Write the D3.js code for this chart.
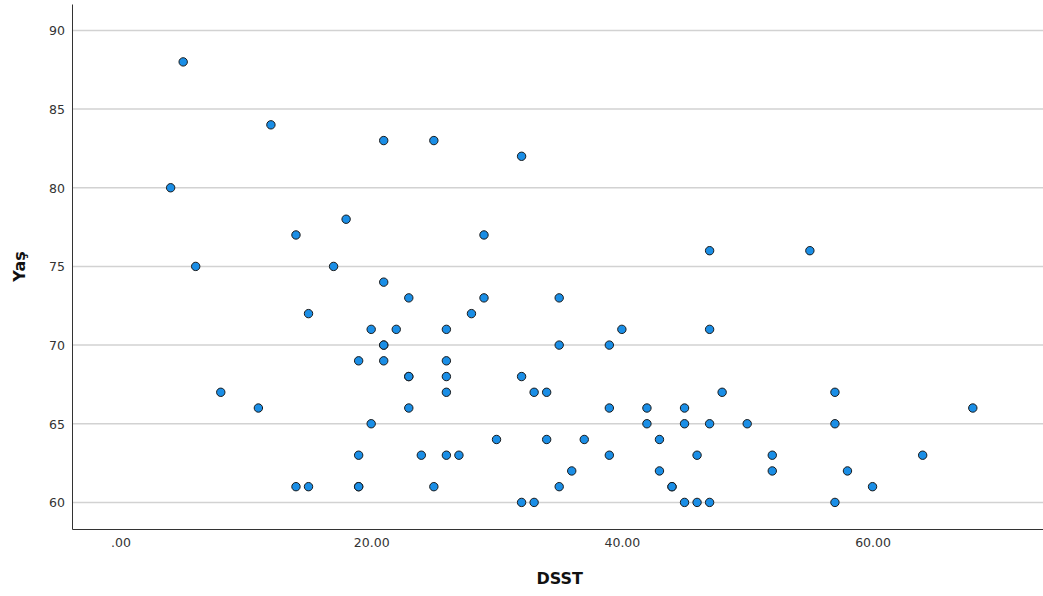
<!DOCTYPE html>
<html>
<head>
<meta charset="utf-8">
<script src="https://cdn.jsdelivr.net/npm/d3@7"></script>
<style>
  body { margin: 0; background: #fff; }
  .tick text { font-family: "DejaVu Sans", sans-serif; font-size: 12.5px; fill: #333; }
  .axis-title { font-family: "DejaVu Sans", sans-serif; font-size: 16px; font-weight: bold; fill: #111; }
</style>
</head>
<body>
<div id="chart"></div>
<script>
// DSST score (x) and age / Yaş (y), one entry per case
var dsst = [5, 4, 6, 12, 14, 18, 17, 21, 25, 32, 29, 21, 23, 29, 15, 28, 20, 22, 26, 21,
            21, 19, 21, 26, 23, 23, 26, 32, 8, 26, 11, 23, 20, 30, 19, 24, 26, 27, 14, 15,
            19, 19, 25, 32, 35, 40, 47, 35, 39, 33, 34, 48, 57, 39, 42, 45, 68, 42, 45, 47,
            50, 57, 34, 37, 43, 39, 46, 52, 64, 36, 43, 52, 58, 35, 44, 44, 60, 33, 45, 46,
            47, 57, 47, 55];
var yas  = [88, 80, 75, 84, 77, 78, 75, 83, 83, 82, 77, 74, 73, 73, 72, 72, 71, 71, 71, 70,
            70, 69, 69, 69, 68, 68, 68, 68, 67, 67, 66, 66, 65, 64, 63, 63, 63, 63, 61, 61,
            61, 61, 61, 60, 73, 71, 71, 70, 70, 67, 67, 67, 67, 66, 66, 66, 66, 65, 65, 65,
            65, 65, 64, 64, 64, 63, 63, 63, 63, 62, 62, 62, 62, 61, 61, 61, 61, 60, 60, 60,
            60, 60, 76, 76];
var xTicks = [0, 20, 40, 60];
var yTicks = [60, 65, 70, 75, 80, 85, 90];

var W = 1043, H = 596;
var margin = {top: 4, right: 0, bottom: 67, left: 72},
    width = W - margin.left - margin.right,
    height = H - margin.top - margin.bottom;

var svg = d3.select("#chart")
  .append("svg")
  .attr("width", W)
  .attr("height", H)
  .append("g")
  .attr("transform", "translate(" + margin.left + "," + margin.top + ")");

var x = d3.scaleLinear()
  .domain([-3.87, 73.6])
  .range([0, width]);
var y = d3.scaleLinear()
  .domain([58.31, 91.68])
  .range([height, 0]);

// horizontal grid lines
svg.selectAll(".grid").data(yTicks)
  .enter().append("line")
  .attr("class", "grid")
  .attr("x1", 0)
  .attr("x2", width)
  .attr("y1", function(d) {return y(d);})
  .attr("y2", function(d) {return y(d);})
  .style("stroke", "#d2d2d2")
  .style("stroke-width", 1.5);

var xAxis = d3.axisBottom(x)
  .tickValues(xTicks)
  .tickSize(0)
  .tickPadding(9)
  .tickFormat(function(d) {return d === 0 ? ".00" : d3.format(".2f")(d);});
var yAxis = d3.axisLeft(y)
  .tickValues(yTicks)
  .tickSize(0)
  .tickPadding(7);

svg.append("g")
  .attr("class", "axis axis-x")
  .attr("transform", "translate(0," + height + ")")
  .call(xAxis)
  .select(".domain").style("stroke", "#333");

svg.append("g")
  .attr("class", "axis axis-y")
  .call(yAxis)
  .select(".domain").style("stroke", "#333");

svg.selectAll(".axis-y .tick text").attr("dy", "0.36em");

svg.selectAll(".dot").data(dsst)
  .enter().append("circle")
  .attr("class", "dot")
  .attr("cx", function(d) {return x(d);})
  .attr("cy", function(d, i) {return y(yas[i]);})
  .attr("r", 4.2)
  .style("fill", "#1a8ee6")
  .style("stroke", "#1a1a1a")
  .style("stroke-width", 1);

svg.append("text")
  .attr("class", "axis-title")
  .attr("x", x(35) + 0.5)
  .attr("y", height + 55)
  .attr("text-anchor", "middle")
  .text("DSST");

svg.append("text")
  .attr("class", "axis-title")
  .attr("transform", "translate(" + (-47) + "," + y(75) + ") rotate(-90)")
  .attr("text-anchor", "middle")
  .text("Yaş");
</script>
</body>
</html>
